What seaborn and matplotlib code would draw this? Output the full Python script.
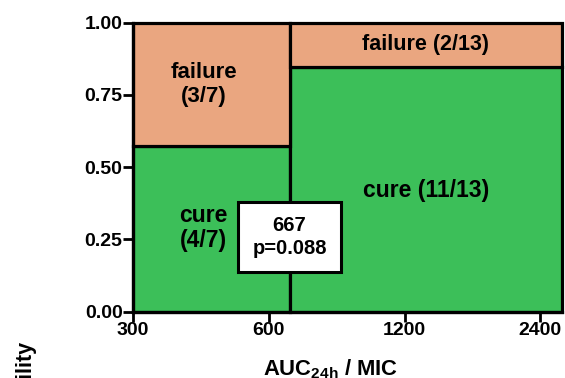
import numpy as np
import matplotlib
matplotlib.use("Agg")
import matplotlib.pyplot as plt
import seaborn as sns
from matplotlib.ticker import FixedLocator, FixedFormatter, NullLocator

# Outcome counts in two AUC24h/MIC groups split at the breakpoint
group_edges = [300, 667, 2680]
outcomes = ["cure", "failure"]
cure_counts = [4, 11]
failure_counts = [3, 2]
group_totals = [7, 13]
xticks = [300, 600, 1200, 2400]
xtick_labels = ["300", "600", "1200", "2400"]
yticks = [0.0, 0.25, 0.5, 0.75, 1.0]
ytick_labels = ["0.00", "0.25", "0.50", "0.75", "1.00"]
breakpoint_value = 667
p_value = 0.088

colors = {"failure": "#EAA680", "cure": "#3CBF59"}

sns.set_theme(style="ticks")
plt.rcParams["font.family"] = ["Liberation Sans", "DejaVu Sans"]
plt.rcParams["font.weight"] = "bold"
plt.rcParams["text.color"] = "black"
plt.rcParams["axes.labelcolor"] = "black"
plt.rcParams["mathtext.fontset"] = "custom"
plt.rcParams["mathtext.rm"] = "Liberation Sans:bold"
plt.rcParams["mathtext.bf"] = "Liberation Sans:bold"

fig = plt.figure(figsize=(5.65, 3.78), dpi=100)
ax = fig.add_axes([133 / 565, 1 - 311.7 / 378, (562 - 133) / 565, (311.7 - 22.5) / 378])
ax.set_xscale("log", base=2)

lefts = np.array(group_edges[:-1], dtype=float)
widths = np.diff(group_edges)
cure_frac = np.array(cure_counts) / np.array(group_totals)
fail_frac = np.array(failure_counts) / np.array(group_totals)

# Mosaic: cure at the bottom, failure stacked on top, widths spanning each group
bars_cure = ax.bar(lefts, cure_frac, width=widths, align="edge",
                   color=colors["cure"], edgecolor="black", linewidth=2.3)
bars_fail = ax.bar(lefts, fail_frac, width=widths, bottom=cure_frac, align="edge",
                   color=colors["failure"], edgecolor="black", linewidth=2.3)
for p in list(bars_cure) + list(bars_fail):
    p.set_clip_on(False)

ax.set_xlim(group_edges[0], group_edges[-1])
ax.set_ylim(0, 1)
ax.xaxis.set_major_locator(FixedLocator(xticks))
ax.xaxis.set_major_formatter(FixedFormatter(xtick_labels))
ax.xaxis.set_minor_locator(NullLocator())
ax.set_yticks(yticks)
ax.set_yticklabels(ytick_labels)

sns.despine(ax=ax)
for side in ["left", "bottom"]:
    ax.spines[side].set_linewidth(2.3)
    ax.spines[side].set_color("black")
ax.tick_params(axis="both", direction="out", length=7, width=2, colors="black",
               labelsize=14, pad=0.5)
for lab in ax.get_xticklabels() + ax.get_yticklabels():
    lab.set_fontweight("bold")

# Group labels
hi_c = np.sqrt(group_edges[1] * group_edges[2])
ax.text(430, (cure_frac[0] + 1) / 2, f"failure\n({failure_counts[0]}/{group_totals[0]})",
        ha="center", va="center", fontsize=16, fontweight="bold", linespacing=1.15)
ax.text(430, 0.29, f"cure\n({cure_counts[0]}/{group_totals[0]})",
        ha="center", va="center", fontsize=16.5, fontweight="bold", linespacing=1.1)
ax.text(hi_c, (cure_frac[1] + 1) / 2, f"failure ({failure_counts[1]}/{group_totals[1]})",
        ha="center", va="center", fontsize=15.5, fontweight="bold")
ax.text(hi_c, 0.42, f"cure ({cure_counts[1]}/{group_totals[1]})",
        ha="center", va="center", fontsize=16.5, fontweight="bold")

# Breakpoint box
ax.text(breakpoint_value, 0.258, f"{breakpoint_value}\np={p_value:.3f}",
        ha="center", va="center", fontsize=14.5, fontweight="bold", linespacing=1.25,
        bbox=dict(boxstyle="square,pad=0.7", fc="white", ec="black", lw=2.2), zorder=5)

fig.text(330.5 / 565, 3 / 378, r"AUC$_{\mathrm{24h}}$ / MIC", ha="center", va="baseline",
         fontsize=15.8, fontweight="bold")
fig.text(25 / 565, 1 - 340 / 378, "Probability", rotation=90, ha="center", va="top",
         fontsize=15.5, fontweight="bold")

fig.savefig("out.png", dpi=100)
